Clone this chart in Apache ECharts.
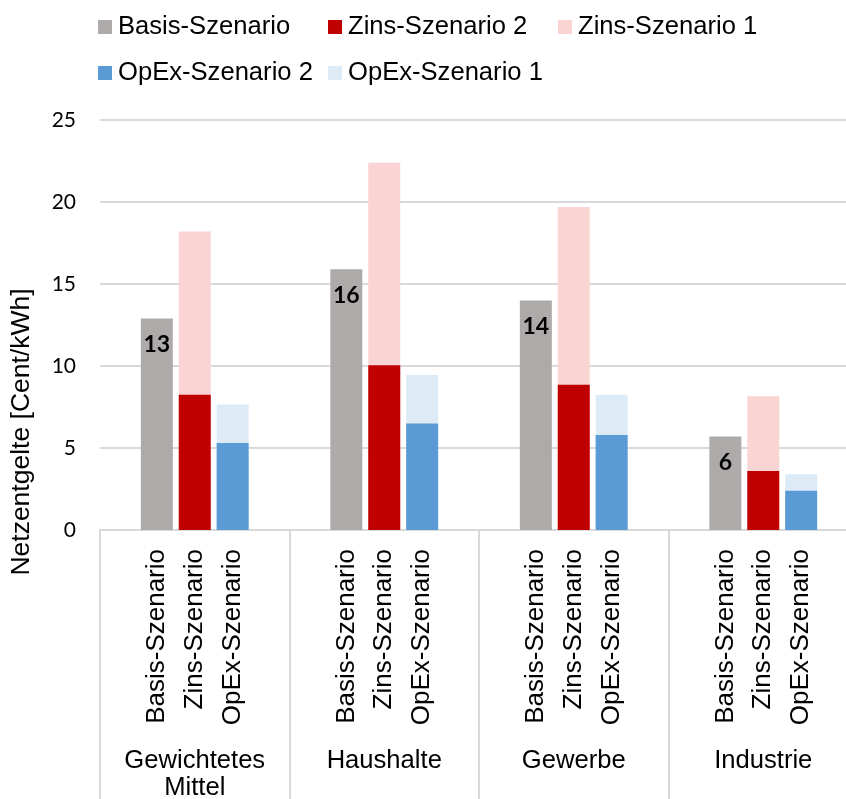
<!DOCTYPE html>
<html>
<head>
<meta charset="utf-8">
<script src="https://cdn.jsdelivr.net/npm/echarts@6/dist/echarts.min.js"></script>
<style>
  html, body { margin: 0; padding: 0; background: #fff; }
  #chart { width: 846px; height: 799px; }
</style>
</head>
<body>
<div id="chart"></div>
<script>
// Customer groups and scenarios shown per group
const groups = ['Gewichtetes\nMittel', 'Haushalte', 'Gewerbe', 'Industrie'];
const scenarios = ['Basis-Szenario', 'Zins-Szenario', 'OpEx-Szenario'];

// Network charges in Cent/kWh (scenario totals per group)
const basis = [12.9, 15.9, 14.0, 5.7];
const zins2 = [8.25, 10.05, 8.85, 3.6];
const zins1 = [18.2, 22.4, 19.7, 8.15];
const opex2 = [5.3, 6.5, 5.8, 2.4];
const opex1 = [7.65, 9.45, 8.25, 3.4];

// Y axis ticks
const yTicks = [0, 5, 10, 15, 20, 25];

// Each group occupies five slots: spacer, Basis, Zins, OpEx, spacer
const SLOTS = 5;
const slotKeys = [];
groups.forEach((g, gi) => {
  slotKeys.push(gi + '|');
  scenarios.forEach(s => slotKeys.push(gi + '|' + s));
  slotKeys.push(gi + '|ende');
});

function toSlots(values, scenarioIndex) {
  const out = new Array(groups.length * SLOTS).fill('-');
  values.forEach((v, gi) => { out[gi * SLOTS + 1 + scenarioIndex] = v; });
  return out;
}

const gridLine = '#D9D9D9';
const sansFont = '"Liberation Sans", Arial, sans-serif';
const numFont = 'Lato, "Open Sans", sans-serif';

const legendItems = [
  { name: 'Basis-Szenario', left: 98, top: 14 },
  { name: 'Zins-Szenario 2', left: 328, top: 14 },
  { name: 'Zins-Szenario 1', left: 558, top: 14 },
  { name: 'OpEx-Szenario 2', left: 98, top: 60 },
  { name: 'OpEx-Szenario 1', left: 328, top: 60 }
];

const chart = echarts.init(document.getElementById('chart'), null, { renderer: 'canvas' });

const barBase = { type: 'bar', barWidth: 32, barGap: '-100%', xAxisIndex: 0, yAxisIndex: 0 };

chart.setOption({
  animation: false,
  backgroundColor: '#fff',
  // plot area runs a little past the right edge of the canvas
  grid: { left: 100, width: 758, top: 120, bottom: 269, containLabel: false, outerBoundsMode: 'none' },
  legend: legendItems.map(it => ({
    data: [it.name],
    left: it.left,
    top: it.top,
    padding: 0,
    icon: 'rect',
    itemWidth: 14,
    itemHeight: 14,
    itemGap: 0,
    selectedMode: false,
    textStyle: { fontFamily: sansFont, fontSize: 25.6, color: '#000', padding: [0, 0, 0, 1] }
  })),
  xAxis: [
    {
      type: 'category',
      position: 'bottom',
      data: slotKeys,
      axisLine: { show: true, lineStyle: { color: gridLine, width: 2 } },
      axisTick: { show: false },
      axisLabel: {
        interval: 0,
        rotate: 90,
        margin: 19,
        fontFamily: sansFont,
        fontSize: 26,
        color: '#000',
        formatter: v => v.split('|')[1] === 'ende' ? '' : v.split('|')[1]
      },
      splitLine: { show: false }
    },
    {
      type: 'category',
      position: 'bottom',
      data: groups,
      axisLine: { show: false },
      axisTick: { show: true, length: 272, lineStyle: { color: gridLine, width: 2 } },
      axisLabel: {
        interval: 0,
        margin: 217,
        fontFamily: sansFont,
        fontSize: 25.6,
        lineHeight: 27,
        color: '#000',
        align: 'center'
      },
      splitLine: { show: false }
    }
  ],
  yAxis: {
    type: 'value',
    min: yTicks[0],
    max: yTicks[yTicks.length - 1],
    interval: yTicks[1] - yTicks[0],
    axisLine: { show: false },
    axisTick: { show: false },
    axisLabel: { margin: 24, fontFamily: numFont, fontSize: 21, color: '#000' },
    splitLine: { show: true, lineStyle: { color: gridLine, width: 2 } }
  },
  graphic: [{
    type: 'text',
    x: 22,
    y: 432,
    rotation: Math.PI / 2,
    style: {
      text: 'Netzentgelte [Cent/kWh]',
      x: 0,
      y: 0,
      align: 'center',
      verticalAlign: 'middle',
      font: '26.5px ' + sansFont,
      fill: '#000'
    }
  }],
  series: [
    Object.assign({}, barBase, {
      name: 'Basis-Szenario',
      data: toSlots(basis, 0),
      z: 2,
      itemStyle: { color: '#AEAAAA' },
      label: {
        show: true,
        position: 'insideTop',
        distance: 15,
        fontFamily: numFont,
        fontWeight: 'bold',
        fontSize: 23,
        color: '#000',
        formatter: p => String(Math.round(p.value))
      }
    }),
    Object.assign({}, barBase, {
      name: 'Zins-Szenario 1',
      data: toSlots(zins1, 1),
      z: 2,
      itemStyle: { color: '#FAD3D3' }
    }),
    Object.assign({}, barBase, {
      name: 'Zins-Szenario 2',
      data: toSlots(zins2, 1),
      z: 3,
      itemStyle: { color: '#C00000' }
    }),
    Object.assign({}, barBase, {
      name: 'OpEx-Szenario 1',
      data: toSlots(opex1, 2),
      z: 2,
      itemStyle: { color: '#DDEBF7' }
    }),
    Object.assign({}, barBase, {
      name: 'OpEx-Szenario 2',
      data: toSlots(opex2, 2),
      z: 3,
      itemStyle: { color: '#5B9BD5' }
    })
  ]
});
</script>
</body>
</html>
